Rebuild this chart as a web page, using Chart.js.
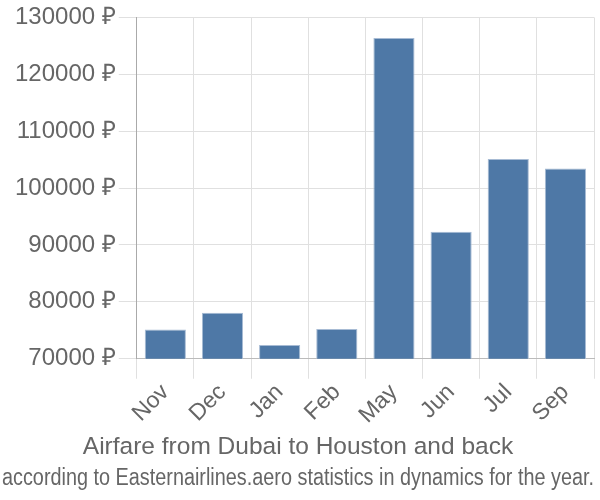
<!DOCTYPE html>
<html>
<head>
<meta charset="utf-8">
<script src="https://cdn.jsdelivr.net/npm/chart.js@4/dist/chart.umd.min.js"></script>
<style>
html,body{margin:0;padding:0;background:#fff;}
#wrap{width:600px;height:500px;}
</style>
</head>
<body>
<div id="wrap"><canvas id="c" width="600" height="500"></canvas></div>
<script>
const categories = ["Nov", "Dec", "Jan", "Feb", "May", "Jun", "Jul", "Sep"];
const prices = [75160, 78080, 72440, 75230, 126400, 92330, 105120, 103430];
const yTicks = [70000, 80000, 90000, 100000, 110000, 120000, 130000];
const titleText = "Airfare from Dubai to Houston and back";
const subtitleText = "according to Easternairlines.aero statistics in dynamics for the year.";

const FONT = "'Liberation Sans', Arial, sans-serif";
new Chart(document.getElementById('c'), {
  type: 'bar',
  data: {
    labels: categories,
    datasets: [{
      data: prices,
      backgroundColor: '#4e78a6',
      borderColor: '#a7bbd4',
      borderWidth: 1
    }]
  },
  options: {
    responsive: false,
    animation: false,
    layout: { padding: { top: -1, right: 6, left: 2, bottom: 8 } },
    plugins: {
      legend: { display: false },
      tooltip: { enabled: false },
      title: {
        display: true, text: titleText, position: 'bottom', weight: 1000,
        color: '#666', font: { family: FONT, size: 24.5, weight: 'normal' },
        padding: { top: 4, bottom: 2 }
      },
      subtitle: {
        display: true, text: subtitleText, position: 'bottom', weight: 2000,
        color: '#666', font: { family: FONT, size: 23, weight: 'normal' },
        padding: { top: 0, bottom: 0 }
      }
    },
    scales: {
      x: {
        grid: { color: '#e0e0e0', lineWidth: 1, offset: true, tickLength: 20, drawTicks: true },
        border: { color: '#bbb' },
        ticks: { color: '#666', font: { family: FONT, size: 23 }, minRotation: 45, maxRotation: 45, padding: 0 }
      },
      y: {
        min: 70000, max: 130000,
        afterBuildTicks: (axis) => { axis.ticks = yTicks.map(v => ({ value: v })); },
        afterFit: (axis) => { axis.width += 10; },
        grid: { color: '#e0e0e0', lineWidth: 1, tickLength: 18 },
        border: { color: '#aaa' },
        ticks: { color: '#666', font: { family: FONT, size: 24 }, padding: 3, callback: (v) => v + ' ₽' }
      }
    }
  }
});
</script>
</body>
</html>
